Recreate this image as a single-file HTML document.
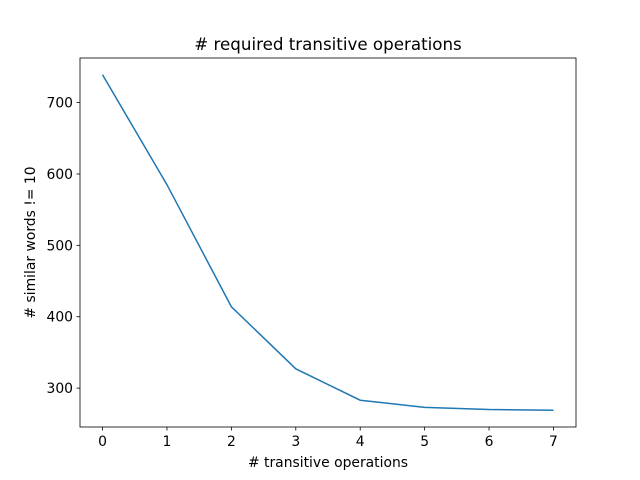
<!DOCTYPE html>
<html><head><meta charset="utf-8"><style>body{margin:0;background:#fff}svg{display:block;font-family:"DejaVu Sans","Liberation Sans",sans-serif}</style></head>
<body>
<svg id="chart" width="640" height="480" xmlns="http://www.w3.org/2000/svg">
<rect width="640" height="480" fill="#fff"/>
<text x="328" y="50" font-size="16.7" text-anchor="middle"># required transitive operations</text>
<g id="axes"></g>
</svg>
<script>
const xValues=[0,1,2,3,4,5,6,7];
const yValues=[739,585,414,327,283,273,270,269];
const yTicks=[300,400,500,600,700];
const X0=80,X1=576,Y0=58,Y1=427;
const xMin=-0.35,xMax=7.35,yMin=245.5,yMax=762.5;
const sx=v=>X0+(v-xMin)/(xMax-xMin)*(X1-X0);
const sy=v=>Y1-(v-yMin)/(yMax-yMin)*(Y1-Y0);
const ns="http://www.w3.org/2000/svg",g=document.getElementById('axes');
function mk(t,a){const e=document.createElementNS(ns,t);for(const k in a)e.setAttribute(k,a[k]);g.appendChild(e);return e;}
xValues.forEach(v=>{const x=sx(v);
const t=mk('line',{x1:x,x2:x,y1:Y1,y2:Y1+3.5,stroke:'#000','stroke-width':0.8});


const l=mk('text',{x:x,y:Y1+19,'font-size':13.9,'text-anchor':'middle'});l.textContent=v;

});
yTicks.forEach(v=>{const y=sy(v);
const t=mk('line',{x1:X0-3.5,x2:X0,y1:y,y2:y,stroke:'#000','stroke-width':0.8});


const l=mk('text',{x:X0-7,y:y+5,'font-size':13.9,'text-anchor':'end'});l.textContent=v;

});
const p=mk('polyline',{points:xValues.map((v,i)=>sx(v)+','+sy(yValues[i])).join(' '),fill:'none',stroke:'#1f77b4','stroke-width':1.5});


const f=mk('rect',{x:X0,y:Y0,width:X1-X0,height:Y1-Y0,fill:'none',stroke:'#000','stroke-width':0.8});


const xt=mk('text',{x:(X0+X1)/2,y:467,'font-size':13.9,'text-anchor':'middle'});xt.textContent='# transitive operations';


const yt=mk('text',{x:0,y:0,'font-size':13.9,'text-anchor':'middle',transform:'translate(35,'+((Y0+Y1)/2)+') rotate(-90)'});yt.textContent='# similar words != 10';


</script>
</body></html>
